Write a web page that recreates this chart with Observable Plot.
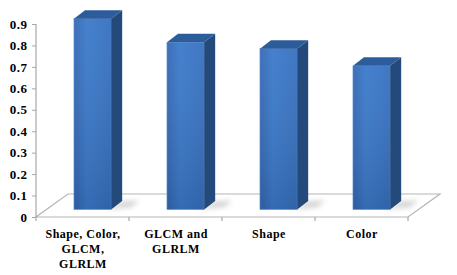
<!DOCTYPE html>
<html>
<head>
<meta charset="utf-8">
<script src="https://cdn.jsdelivr.net/npm/d3@7"></script>
<script src="https://cdn.jsdelivr.net/npm/@observablehq/plot@0.6"></script>
<style>
  html, body { margin: 0; padding: 0; background: #fff; }
</style>
</head>
<body>
<div id="chart"></div>
<script>
// ---- data ----
const categories = ["Shape, Color, GLCM, GLRLM", "GLCM and GLRLM", "Shape", "Color"];
const values = [0.89, 0.78, 0.75, 0.67];
const categoryLabels = ["Shape, Color,\nGLCM,\nGLRLM", "GLCM and\nGLRLM", "Shape", "Color"];
const yTicks = [0, 0.1, 0.2, 0.3, 0.4, 0.5, 0.6, 0.7, 0.8, 0.9];
const yTickLabels = ["0", "0.1", "0.2", "0.3", "0.4", "0.5", "0.6", "0.7", "0.8", "0.9"];

const data = categories.map((c, i) => ({cat: c, value: values[i]}));

// ---- 3D look (pixel styling) ----
const FLOOR_DX = 32, FLOOR_DY = -23;   // floor depth
const BAR_OFF_DX = 11, BAR_OFF_DY = -7.5; // bar front face offset from front plane
const BAR_DX = 11, BAR_DY = -8.5;       // bar depth
const BAR_START = 0.29, BAR_END = 0.69; // fraction of band
const FONT = "Liberation Serif";

function floorMark(index, scales, vals, dims) {
  const g = d3.create("svg:g");
  const x0 = dims.marginLeft, x1 = dims.width - dims.marginRight, y0 = scales.y(0);
  g.append("polygon")
    .attr("points", [[x0, y0], [x1, y0], [x1 + FLOOR_DX, y0 + FLOOR_DY], [x0 + FLOOR_DX, y0 + FLOOR_DY]].map(p => p.join(",")).join(" "))
    .attr("fill", "#fff")
    .attr("stroke", "#b5b5b5")
    .attr("stroke-width", 1.2);
  // vertical axis line
  g.append("line")
    .attr("x1", x0).attr("x2", x0)
    .attr("y1", scales.y(0.9)).attr("y2", y0)
    .attr("stroke", "#a8a8a8").attr("stroke-width", 1.2);
  // category boundary ticks
  const edges = categories.map(c => scales.x(c)).concat([x1]);
  edges.forEach(ex => {
    g.append("line").attr("x1", ex).attr("x2", ex).attr("y1", y0).attr("y2", y0 + 4)
      .attr("stroke", "#a8a8a8").attr("stroke-width", 1.2);
  });
  return g.node();
}

function bars3d(index, scales, vals, dims) {
  const g = d3.create("svg:g");
  const defs = g.append("defs");
  const grad = defs.append("linearGradient").attr("id", "frontGrad").attr("x1", "0").attr("x2", "1").attr("y1", "0").attr("y2", "0");
  grad.append("stop").attr("offset", "0").attr("stop-color", "#3468b3");
  grad.append("stop").attr("offset", "0.35").attr("stop-color", "#3b7acb");
  grad.append("stop").attr("offset", "1").attr("stop-color", "#3670be");
  const vgrad = defs.append("linearGradient").attr("id", "vShade").attr("x1", "0").attr("x2", "0").attr("y1", "0").attr("y2", "1");
  vgrad.append("stop").attr("offset", "0").attr("stop-color", "#ffffff").attr("stop-opacity", 0.05);
  vgrad.append("stop").attr("offset", "1").attr("stop-color", "#000000").attr("stop-opacity", 0.12);
  const blur = defs.append("filter").attr("id", "shadowBlur").attr("x", "-50%").attr("y", "-50%").attr("width", "200%").attr("height", "200%");
  blur.append("feGaussianBlur").attr("stdDeviation", 2.5);

  const bw = scales.x.bandwidth();
  const y0 = scales.y(0);
  data.forEach(d => {
    const bx = scales.x(d.cat);
    const L = bx + BAR_START * bw + BAR_OFF_DX;
    const R = bx + BAR_END * bw + BAR_OFF_DX;
    const B = y0 + BAR_OFF_DY;
    const T = scales.y(d.value) + BAR_OFF_DY;
    const pts = a => a.map(p => p.join(",")).join(" ");
    // shadow on floor
    g.append("polygon")
      .attr("points", pts([[R - 4, B], [R + 20, B - 2], [R + 28, B - 9], [R + BAR_DX, B + BAR_DY]]))
      .attr("fill", "#9a9a9a").attr("opacity", 0.4).attr("filter", "url(#shadowBlur)");
    // front
    g.append("rect").attr("x", L).attr("y", T).attr("width", R - L).attr("height", B - T)
      .attr("fill", "url(#frontGrad)");
    g.append("rect").attr("x", L).attr("y", T).attr("width", R - L).attr("height", B - T)
      .attr("fill", "url(#vShade)").attr("stroke", "#5a8fd6").attr("stroke-width", 0.6);
    // side
    g.append("polygon")
      .attr("points", pts([[R, T], [R + BAR_DX, T + BAR_DY], [R + BAR_DX, B + BAR_DY], [R, B]]))
      .attr("fill", "#24497b");
    // top
    g.append("polygon")
      .attr("points", pts([[L, T], [R, T], [R + BAR_DX, T + BAR_DY], [L + BAR_DX, T + BAR_DY]]))
      .attr("fill", "#2d5c9b");
  });
  return g.node();
}

const chart = Plot.plot({
  width: 457,
  height: 275,
  marginLeft: 36,
  marginRight: 49,
  marginTop: 24,
  marginBottom: 58,
  style: {fontFamily: FONT, fontWeight: "bold", color: "#000", background: "#fff"},
  x: {type: "band", domain: categories, padding: 0},
  y: {domain: [0, 0.9]},
  marks: [
    floorMark,
    bars3d,
    Plot.axisY({ticks: yTicks, tickSize: 4, tickPadding: 5, stroke: "#a8a8a8", fill: "#000",
      fontFamily: FONT, fontWeight: "bold",
      tickFormat: d => yTickLabels[yTicks.indexOf(d)], fontSize: 13, label: null}),
    Plot.axisX({tickSize: 0, tickPadding: 10, fill: "#000", lineHeight: 1.25, fontSize: 12, label: null,
      fontFamily: FONT, fontWeight: "bold",
      tickFormat: d => categoryLabels[categories.indexOf(d)]})
  ]
});
chart.style.letterSpacing = "0.5px";
chart.style.fontFamily = FONT;
document.getElementById("chart").appendChild(chart);
</script>
</body>
</html>
